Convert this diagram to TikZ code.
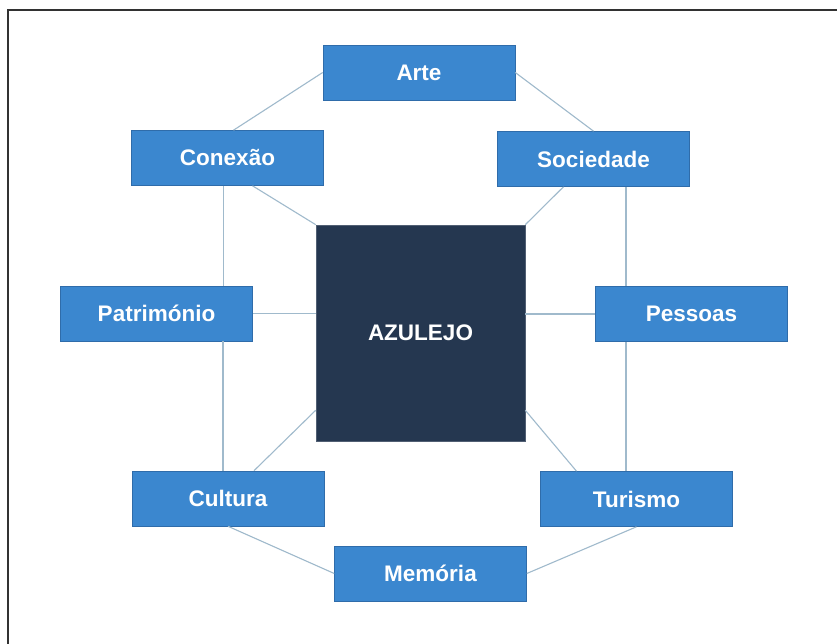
\documentclass[tikz,border=0pt]{standalone}
\usepackage{fontspec}
\setmainfont{Liberation Sans}
\definecolor{boxblue}{RGB}{59,135,207}
\definecolor{boxedge}{RGB}{47,108,170}
\definecolor{navy}{RGB}{37,55,80}
\definecolor{linkc}{RGB}{160,186,204}
\definecolor{framec}{RGB}{50,50,50}
\tikzset{
  x=1pt,y=1pt,
  topic/.style={rectangle,fill=boxblue,draw=boxedge,line width=0.6pt,
    minimum width=192pt,minimum height=55pt,inner sep=0pt,
    text=white,font=\fontsize{22.5}{26}\selectfont\bfseries},
  core/.style={rectangle,fill=navy,draw=navy!80!white,line width=0.6pt,
    minimum width=209pt,minimum height=216pt,inner sep=0pt,
    text=white,font=\fontsize{22.5}{26}\selectfont\bfseries},
  link/.style={draw=linkc,line width=1.1pt},
  frame/.style={draw=framec,line width=2pt}
}
\begin{document}
\begin{tikzpicture}
\useasboundingbox (0,0) rectangle (837,644);
\fill[white] (0,0) rectangle (837,644);
% frame (open at right and bottom)
\coordinate (f1) at (8,0);
\coordinate (f2) at (8,634);
\coordinate (f3) at (837,634);
\draw[frame] (f1) -- (f2) -- (f3);
% nodes (y = 644 - pixel y)
\node[core]  (az)  at (420.5,311) {AZULEJO};
\node[topic] (arte) at (419,571.5) {Arte};
\node[topic] (con)  at (227.5,486) {Conexão};
\node[topic] (soc)  at (593.5,485) {Sociedade};
\node[topic] (pat)  at (156.5,330.5) {Património};
\node[topic] (pes)  at (691.5,330) {Pessoas};
\node[topic] (cul)  at (228,145.5) {Cultura};
\node[topic] (tur)  at (636.5,145) {Turismo};
\node[topic] (mem)  at (430.5,70.5) {Memória};
% connectors
\draw[link] (arte.west) -- ([xshift=6pt]con.north);
\draw[link] (arte.east) -- (soc.north);
\draw[link] ([xshift=-4pt]con.south) -- ([xshift=-4pt]con.south |- pat.north);
\draw[link] ([xshift=25pt]con.south) -- (az.north west);
\draw[link] ([xshift=-30pt]soc.south) -- (az.north east);
\draw[link] ([xshift=32.5pt]soc.south) -- ([xshift=32.5pt]soc.south |- pes.north);
\draw[link] (pat.east) -- (pat.east -| az.west);
\draw[link] (pes.west) -- (pes.west -| az.east);
\draw[link] ([xshift=-5pt]cul.north) -- ([xshift=-5pt]cul.north |- pat.south);
\draw[link] ([xshift=-10.5pt]tur.north) -- ([xshift=-10.5pt]tur.north |- pes.south);
\draw[link] ([xshift=26pt]cul.north) -- ([yshift=31pt]az.south west);
\draw[link] ([xshift=-60pt]tur.north) -- ([yshift=31pt]az.south east);
\draw[link] (cul.south) -- (mem.west);
\draw[link] (tur.south) -- (mem.east);
\end{tikzpicture}
\end{document}
